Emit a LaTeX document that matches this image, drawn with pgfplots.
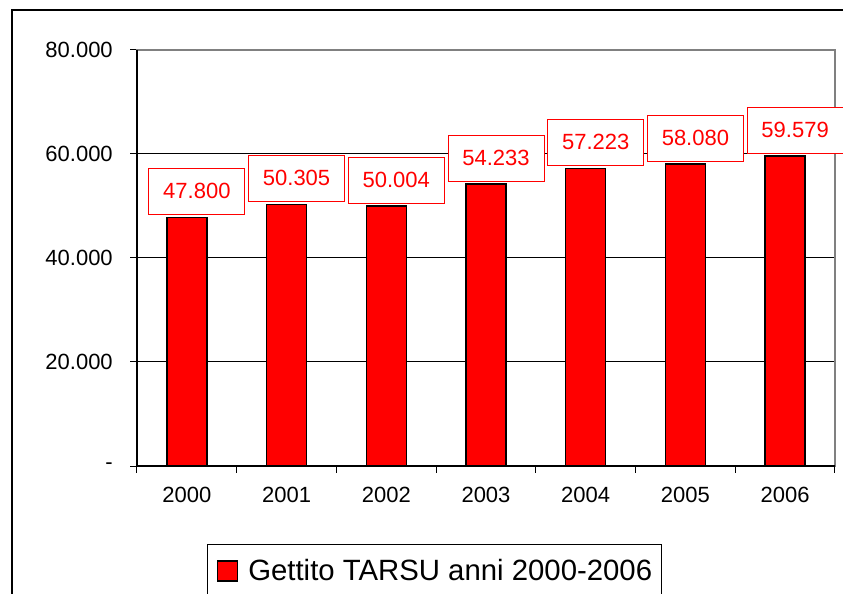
\documentclass[border=0pt]{standalone}
\usepackage{fontspec}
\setmainfont{Liberation Sans}
\usepackage{pgfplots}
\pgfplotsset{compat=1.18}
\definecolor{framegray}{RGB}{128,128,128}

\begin{document}
\begin{tikzpicture}
\useasboundingbox (0,0) rectangle (632.25pt,444.75pt);
\clip (0,0) rectangle (632.25pt,444.75pt);
% outer chart frame (cut by the page edge)
\draw[black, line width=1pt] (9pt,-10pt) -- (9pt,437.25pt) -- (650pt,437.25pt);
\begin{axis}[
    at={(102.75pt,95.25pt)}, anchor=south west,
    scale only axis, width=523.5pt, height=312pt,
    ybar, bar width=30pt,
    xmin=-0.5, xmax=6.5, ymin=0, ymax=80000,
    xtick={-0.5,0.5,1.5,2.5,3.5,4.5,5.5,6.5},
    xticklabels={,,,,,,,},
    extra x ticks={0,1,2,3,4,5,6},
    extra x tick labels={2000,2001,2002,2003,2004,2005,2006},
    extra x tick style={major tick length=0pt},
    ytick={0,20000,40000,60000,80000},
    yticklabels={-,20.000,40.000,60.000,80.000},
    scaled y ticks=false,
    ymajorgrids,
    major grid style={black, line width=0.75pt},
    tick align=outside, tick pos=left,
    major tick length=5pt,
    tick style={black, line width=0.75pt},
    axis line style={framegray, line width=1pt},
    ticklabel style={font=\fontsize{16.5}{18}\selectfont, text=black},
    yticklabel style={anchor=east, inner sep=0pt, xshift=-13pt},
    xticklabel style={anchor=north, inner sep=0pt, yshift=-16pt},
    nodes near coords,
    point meta=explicit symbolic,
    nodes near coords style={font=\fontsize{16.5}{18}\selectfont, text=red,
        draw=red, line width=0.6pt, fill=white, minimum width=72pt,
        minimum height=34.5pt, inner sep=0pt, anchor=south,
        yshift=2pt, xshift=7.5pt},
    clip=false,
    legend style={at={(0.1003,-0.1875)}, anchor=north west,
        draw=black, line width=0.75pt,
        font=\fontsize{22}{26}\selectfont,
        inner xsep=7pt, inner ysep=11pt,
        nodes={inner sep=0pt}, column sep=7.5pt},
    after end axis/.code={
        \draw[black, line width=1pt] (rel axis cs:0,1) -- (rel axis cs:0,0) -- (rel axis cs:1,0);
    },
]
\addplot[fill=red, draw=black, line width=1.1pt,
    legend image code/.code={
        \draw[fill=red, draw=black, line width=1.1pt] (0pt,-7.5pt) rectangle (15pt,7.5pt);
        \path (0pt,-25pt);
    }] coordinates {
    (0,47800)[47.800]
    (1,50305)[50.305]
    (2,50004)[50.004]
    (3,54233)[54.233]
    (4,57223)[57.223]
    (5,58080)[58.080]
    (6,59579)[59.579]
};
\legend{Gettito TARSU anni 2000-2006}
\end{axis}
\end{tikzpicture}
\end{document}
